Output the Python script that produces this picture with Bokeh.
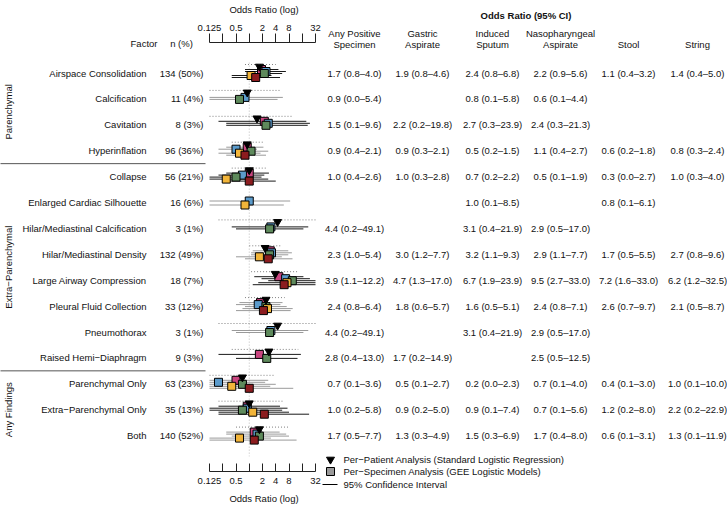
import math
from bokeh.plotting import figure
from bokeh.models import (Range1d, LinearScale, LogAxis, FixedTicker, PrintfTickFormatter,
                          ColumnDataSource)
from bokeh.core.properties import value
from bokeh.embed import file_html
from bokeh.resources import INLINE

# ---------------- data ----------------
factors = ["Airspace Consolidation", "Calcification", "Cavitation", "Hyperinflation",
           "Collapse", "Enlarged Cardiac Silhouette", "Hilar/Mediastinal Calcification",
           "Hilar/Mediastinal Density", "Large Airway Compression", "Pleural Fluid Collection",
           "Pneumothorax", "Raised Hemi\u2212Diaphragm",
           "Parenchymal Only", "Extra\u2212Parenchymal Only", "Both"]
groups = ["Parenchymal"] * 4 + ["Extra\u2212Parenchymal"] * 8 + ["Any Findings"] * 3
n_count = [134, 11, 8, 96, 56, 16, 3, 132, 18, 33, 3, 9, 63, 35, 140]
n_pct = [50, 4, 3, 36, 21, 6, 1, 49, 7, 12, 1, 3, 23, 13, 52]

any_est = [1.7, 0.9, 1.5, 0.9, 1.0, None, 4.4, 2.3, 3.9, 2.4, 4.4, 2.8, 0.7, 1.0, 1.7]
any_lo = [0.8, 0.0, 0.1, 0.4, 0.4, None, 0.2, 1.0, 1.1, 0.8, 0.2, 0.4, 0.1, 0.2, 0.5]
any_hi = [4.0, 5.4, 9.6, 2.1, 2.6, None, 49.1, 5.4, 12.2, 6.4, 49.1, 13.0, 3.6, 5.8, 7.7]

ga_est = [1.9, None, 2.2, 0.9, 1.0, None, None, 3.0, 4.7, 1.8, None, 1.7, 0.5, 0.9, 1.3]
ga_lo = [0.8, None, 0.2, 0.3, 0.3, None, None, 1.2, 1.3, 0.6, None, 0.2, 0.1, 0.2, 0.3]
ga_hi = [4.6, None, 19.8, 2.1, 2.8, None, None, 7.7, 17.0, 5.7, None, 14.9, 2.7, 5.0, 4.9]

is_est = [2.4, 0.8, 2.7, 0.5, 0.7, 1.0, 3.1, 3.2, 6.7, 1.6, 3.1, None, 0.2, 0.9, 1.5]
is_lo = [0.8, 0.1, 0.3, 0.2, 0.2, 0.1, 0.4, 1.1, 1.9, 0.5, 0.4, None, 0.0, 0.1, 0.3]
is_hi = [6.8, 5.8, 23.9, 1.5, 2.2, 8.5, 21.9, 9.3, 23.9, 5.1, 21.9, None, 2.3, 7.4, 6.9]

npa_est = [2.2, 0.6, 2.4, 1.1, 0.5, None, 2.9, 2.9, 9.5, 2.4, 2.9, 2.5, 0.7, 0.7, 1.7]
npa_lo = [0.9, 0.1, 0.3, 0.4, 0.1, None, 0.5, 1.1, 2.7, 0.8, 0.5, 0.5, 0.1, 0.1, 0.4]
npa_hi = [5.6, 4.4, 21.3, 2.7, 1.9, None, 17.0, 7.7, 33.0, 7.1, 17.0, 12.5, 4.0, 5.6, 8.0]

stool_est = [1.1, None, None, 0.6, 0.3, 0.8, None, 1.7, 7.2, 2.6, None, None, 0.4, 1.2, 0.6]
stool_lo = [0.4, None, None, 0.2, 0.0, 0.1, None, 0.5, 1.6, 0.7, None, None, 0.1, 0.2, 0.1]
stool_hi = [3.2, None, None, 1.8, 2.7, 6.1, None, 5.5, 33.0, 9.7, None, None, 3.0, 8.0, 3.1]

string_est = [1.4, None, None, 0.8, 1.0, None, None, 2.7, 6.2, 2.1, None, None, 1.0, 2.2, 1.3]
string_lo = [0.4, None, None, 0.3, 0.3, None, None, 0.8, 1.2, 0.5, None, None, 0.1, 0.2, 0.1]
string_hi = [5.0, None, None, 2.4, 4.0, None, None, 9.6, 32.5, 8.7, None, None, 10.0, 22.9, 11.9]

specimens = ["Gastric Aspirate", "Induced Sputum", "Nasopharyngeal Aspirate", "Stool", "String"]
spec_est = [ga_est, is_est, npa_est, stool_est, string_est]
spec_lo = [ga_lo, is_lo, npa_lo, stool_lo, string_lo]
spec_hi = [ga_hi, is_hi, npa_hi, stool_hi, string_hi]

head_line1 = ["Any Positive", "Gastric", "Induced", "Nasopharyngeal", "", ""]
head_line2 = ["Specimen", "Aspirate", "Sputum", "Aspirate", "Stool", "String"]

legend_labels = ["Per\u2212Patient Analysis (Standard Logistic Regression)",
                 "Per\u2212Specimen Analysis (GEE Logistic Models)",
                 "95% Confidence Interval"]

axis_ticks = [0.125, 0.5, 2, 4, 8, 32]
axis_minor = [0.25, 1, 16]

# ---------------- style / layout ----------------
FONT = "Liberation Sans"
FS = "9.5px"
TXT = "#111111"
spec_colors = ["#C9457F", "#5B9BCB", "#5E8A5C", "#F2B53A", "#8C1C1F"]
spec_offsets_px = [-3.5, -1.5, 0.5, 2.5, 4.5]
row_tone = ["#1a1a1a", "#9a9a9a", "#1a1a1a", "#9a9a9a", "#1a1a1a", "#9a9a9a", "#1a1a1a",
            "#9a9a9a", "#1a1a1a", "#9a9a9a", "#9a9a9a", "#1a1a1a", "#9a9a9a", "#1a1a1a", "#9a9a9a"]

W, H = 727, 507
ROW0 = 72.5            # canvas y of first row
STEP = 25.9            # px between rows
FR_L, FR_R = 205, 322  # canvas x of the forest frame
FR_T, FR_B = 42, 471   # canvas y of the forest frame
PPL = 13.25            # px per log2 unit
X_MIN_PAGE, X_MAX_PAGE = 209, 315


def prow(page_y):
    return (page_y - ROW0) / STEP


def px(d):
    return d / STEP


nrows = len(factors)
rows_idx = list(range(nrows))

xlo = axis_ticks[0] * 2 ** (-(X_MIN_PAGE - FR_L) / PPL)
xhi = axis_ticks[-1] * 2 ** ((FR_R - X_MAX_PAGE) / PPL)

p = figure(width=W, height=H, x_axis_type="log", x_range=Range1d(xlo, xhi),
           y_range=Range1d(prow(FR_B), prow(FR_T)),
           x_axis_location=None, y_axis_location=None, toolbar_location=None, title=None,
           output_backend="svg", outline_line_color=None,
           min_border_left=FR_L, min_border_right=W - FR_R,
           min_border_top=FR_T, min_border_bottom=H - FR_B)
p.grid.visible = False
# canvas-unit horizontal range for the text columns
p.extra_x_ranges = {"page": Range1d(FR_L, FR_R)}
p.extra_x_scales = {"page": LinearScale()}

TK = dict(x_range_name="page", level="annotation", text_font=value(FONT),
          text_font_size=FS, text_color=TXT, text_baseline="middle")

# ---------------- left: factor table ----------------
p.text(x=[146] * nrows, y=rows_idx, text=factors, text_align="right", **TK)
p.text(x=[203] * nrows, y=rows_idx, text=[f"{c} ({q}%)" for c, q in zip(n_count, n_pct)],
       text_align="right", **TK)
p.text(x=[143.5, 181], y=[prow(43)] * 2, text=["Factor", "n (%)"], text_align="center", **TK)

gnames, gcent, seps = [], [], []
start = 0
for i in range(1, nrows + 1):
    if i == nrows or groups[i] != groups[start]:
        gnames.append(groups[start])
        gcent.append((start + i - 1) / 2)
        if i < nrows:
            seps.append(i - 0.5)
        start = i
p.text(x=[8] * len(gnames), y=gcent, text=gnames, angle=math.pi / 2, text_align="center", **TK)
p.segment(x0=[0] * len(seps), x1=[FR_L] * len(seps), y0=seps, y1=seps,
          line_color="#555555", line_width=1, x_range_name="page", level="annotation")

# ---------------- middle: forest ----------------
lim_lo, lim_hi = axis_ticks[0], axis_ticks[-1]


def clip(v):
    return min(max(v, lim_lo), lim_hi)


p.segment(x0=[1], x1=[1], y0=[-0.4], y1=[nrows - 0.2], line_color="#bdbdbd",
          line_dash="1 2", line_width=1)

pp = dict(x0=[], x1=[], y=[], est=[], yt=[])
for i in rows_idx:
    if any_est[i] is None:
        continue
    pp["x0"].append(clip(any_lo[i]))
    pp["x1"].append(clip(any_hi[i]))
    pp["y"].append(i + px(-8.5))
    pp["est"].append(any_est[i])
    pp["yt"].append(i + px(-6.5))
pps = ColumnDataSource(pp)
p.segment(x0="x0", x1="x1", y0="y", y1="y", source=pps, line_color="#808080",
          line_dash="1 2", line_width=1)

sl = dict(x0=[], x1=[], y=[], c=[])
sq = dict(x=[], y=[], c=[])
for k in range(len(specimens)):
    for i in rows_idx:
        e = spec_est[k][i]
        if e is None:
            continue
        yy = i + px(spec_offsets_px[k])
        sl["x0"].append(clip(spec_lo[k][i]))
        sl["x1"].append(clip(spec_hi[k][i]))
        sl["y"].append(yy)
        sl["c"].append(row_tone[i])
        sq["x"].append(e)
        sq["y"].append(yy)
        sq["c"].append(spec_colors[k])
p.segment(x0="x0", x1="x1", y0="y", y1="y", line_color="c", line_width=1,
          source=ColumnDataSource(sl))
p.scatter(x="x", y="y", marker="square", size=8, fill_color="c", line_color="black",
          line_width=1, source=ColumnDataSource(sq))
p.scatter(x="est", y="yt", marker="inverted_triangle", size=8, fill_color="black",
          line_color="black", source=pps)

ticker = FixedTicker(ticks=axis_ticks, minor_ticks=axis_minor)
for loc in ("above", "below"):
    ax = LogAxis(ticker=ticker, formatter=PrintfTickFormatter(format="%g"),
                 bounds=(lim_lo, lim_hi), axis_label="Odds Ratio (log)",
                 axis_label_text_font=FONT, axis_label_text_font_size=FS,
                 axis_label_text_font_style="normal", axis_label_text_color=TXT,
                 major_label_text_font=FONT, major_label_text_font_size=FS,
                 major_label_text_color=TXT, axis_line_color="#222222",
                 major_tick_line_color="#222222", minor_tick_line_color="#222222")
    if loc == "above":
        ax.major_tick_out, ax.major_tick_in = 9, 0
        ax.minor_tick_out, ax.minor_tick_in = 9, 0
        ax.major_label_standoff = 3
        ax.axis_label_standoff = 7
    else:
        ax.major_tick_out, ax.major_tick_in = 0, 8
        ax.minor_tick_out, ax.minor_tick_in = 0, 8
        ax.major_label_standoff = 6
        ax.axis_label_standoff = 6
    p.add_layout(ax, loc)

# ---------------- right: values table ----------------
col_x = [354, 422, 492, 560, 628, 697]

p.text(x=[(col_x[0] + col_x[-1]) / 2], y=[prow(15)], text=["Odds Ratio (95% CI)"],
       text_align="center", text_font_style="bold", **TK)
p.text(x=col_x, y=[prow(33)] * 6, text=head_line1, text_align="center", **TK)
p.text(x=col_x, y=[prow(44)] * 6, text=head_line2, text_align="center", **TK)
icon_y = prow(61)
p.scatter(x=[col_x[0]], y=[icon_y], marker="inverted_triangle", size=8, color="black",
          x_range_name="page", level="annotation")
p.scatter(x=col_x[1:], y=[icon_y] * 5, marker="square", size=8, fill_color=spec_colors,
          line_color="black", line_width=1, x_range_name="page", level="annotation")

all_est = [any_est] + spec_est
all_lo = [any_lo] + spec_lo
all_hi = [any_hi] + spec_hi
vt = dict(x=[], y=[], t=[])
for k in range(6):
    for i in rows_idx:
        e = all_est[k][i]
        if e is None:
            continue
        vt["x"].append(col_x[k])
        vt["y"].append(i)
        vt["t"].append(f"{e:.1f} ({all_lo[k][i]:.1f}\u2013{all_hi[k][i]:.1f})")
p.text(x="x", y="y", text="t", source=ColumnDataSource(vt), text_align="center", **TK)

# ---------------- legend key ----------------
leg_y = [prow(459), prow(471), prow(484)]
p.scatter(x=[330], y=[leg_y[0]], marker="inverted_triangle", size=8, color="black",
          x_range_name="page", level="annotation")
p.scatter(x=[330], y=[leg_y[1]], marker="square", size=8, fill_color="#9a9a9a",
          line_color="black", line_width=1, x_range_name="page", level="annotation")
p.segment(x0=[322], x1=[337], y0=[leg_y[2]], y1=[leg_y[2]], line_color="black", line_width=1,
          x_range_name="page", level="annotation")
p.text(x=[343] * 3, y=leg_y, text=legend_labels, text_align="left", **TK)

open("out.html", "w").write(file_html(p, INLINE))
